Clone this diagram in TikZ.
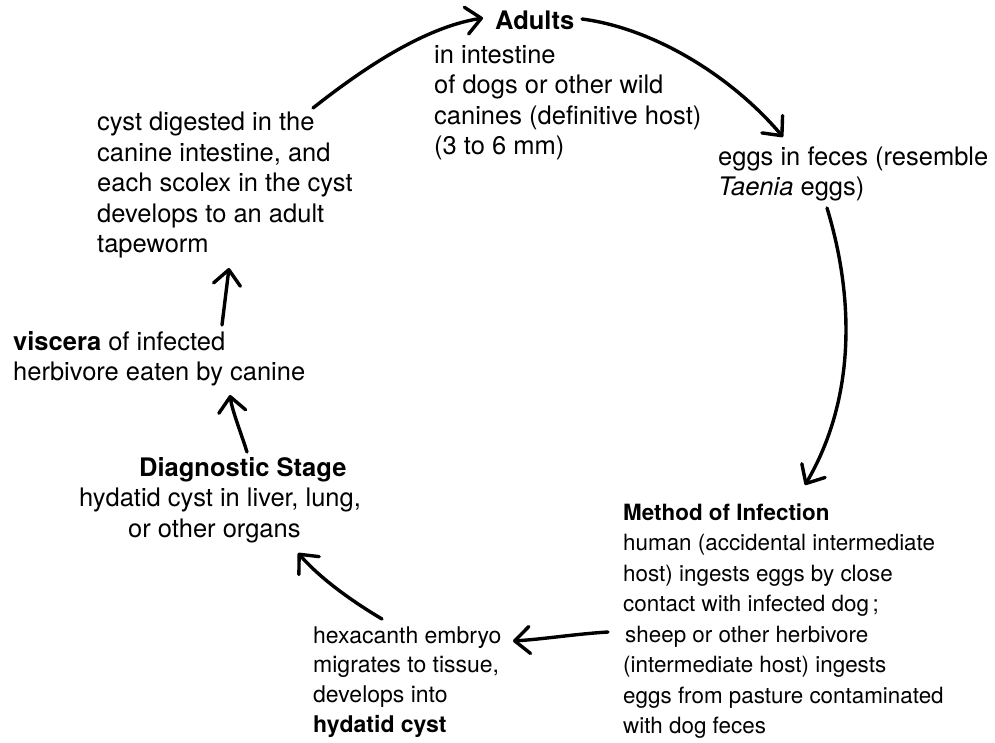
\documentclass[tikz,border=0pt]{standalone}
\usepackage{fontspec}
\setmainfont{TeX Gyre Heros}
\usetikzlibrary{arrows.meta}
\begin{document}
\begin{tikzpicture}[x=1pt,y=-1pt,
  % each text block is placed by the baseline of its last line
  txt/.style={inner sep=0pt, anchor=base west, align=left,
    font=\fontsize{25.5}{30.6}\selectfont},
  smalltxt/.style={txt, font=\fontsize{22.4}{30.5}\selectfont},
  midtxt/.style={txt, font=\fontsize{23}{29.7}\selectfont},
  cycle/.style={line width=3.4pt, line cap=round,
    -{Straight Barb[length=15pt,width=27pt,round]}}]
\useasboundingbox (0,0) rectangle (995,742);

% stage texts
\node[txt] (adultshead) at (495,29) {\textbf{Adults}};
\node[txt] (adults) at (434,154.8) {in intestine\\of dogs or other wild\\canines (definitive host)\\(3 to 6 mm)};
\node[txt] (eggs) at (718,195.6) {eggs in feces (resemble\\\textit{Taenia} eggs)};
\node[smalltxt] (method) at (623,733.5) {\textbf{Method of Infection}\\human (accidental intermediate\\host) ingests eggs by close\\contact with infected dog\,;\\\hspace*{2pt}sheep or other herbivore\\(intermediate host) ingests\\eggs from pasture contaminated\\with dog feces};
\node[midtxt] (embryo) at (313,732.1) {hexacanth embryo\\migrates to tissue,\\develops into\\\textbf{hydatid cyst}};
\node[txt] (diag) at (79,537.2) {\hspace*{60pt}\textbf{Diagnostic Stage}\\hydatid cyst in liver, lung,\\\hspace*{49pt}or other organs};
\node[txt] (viscera) at (13,380.6) {\textbf{viscera} of infected\\herbivore eaten by canine};
\node[txt] (cyst) at (97,252.9) {cyst digested in the\\canine intestine, and\\each scolex in the cyst\\develops to an adult\\tapeworm};

% arrow end points
\coordinate (c1) at (313,108);  \coordinate (c2) at (483,18);
\coordinate (c3) at (582,19);   \coordinate (c4) at (783,137);
\coordinate (c5) at (827,208);  \coordinate (c6) at (805,485);
\coordinate (c7) at (608,632);  \coordinate (c8) at (513,641);
\coordinate (c9) at (382,619);  \coordinate (c10) at (298,553);
\coordinate (c11) at (247,452); \coordinate (c12) at (230,395);
\coordinate (c13) at (222,325); \coordinate (c14) at (229,268);

% life cycle arrows
\draw[cycle] (c1) .. controls (355,75) and (420,28) .. (c2);
\draw[cycle] (c3) .. controls (658,29) and (735,80) .. (c4);
\draw[cycle] (c5) .. controls (855,300) and (855,400) .. (c6);
\draw[cycle] (c7) .. controls (575,634) and (545,639) .. (c8);
\draw[cycle] (c9) .. controls (350,600) and (320,578) .. (c10);
\draw[cycle] (c11) .. controls (240,430) and (232,410) .. (c12);
\draw[cycle] (c13) -- (c14);
\end{tikzpicture}
\end{document}
